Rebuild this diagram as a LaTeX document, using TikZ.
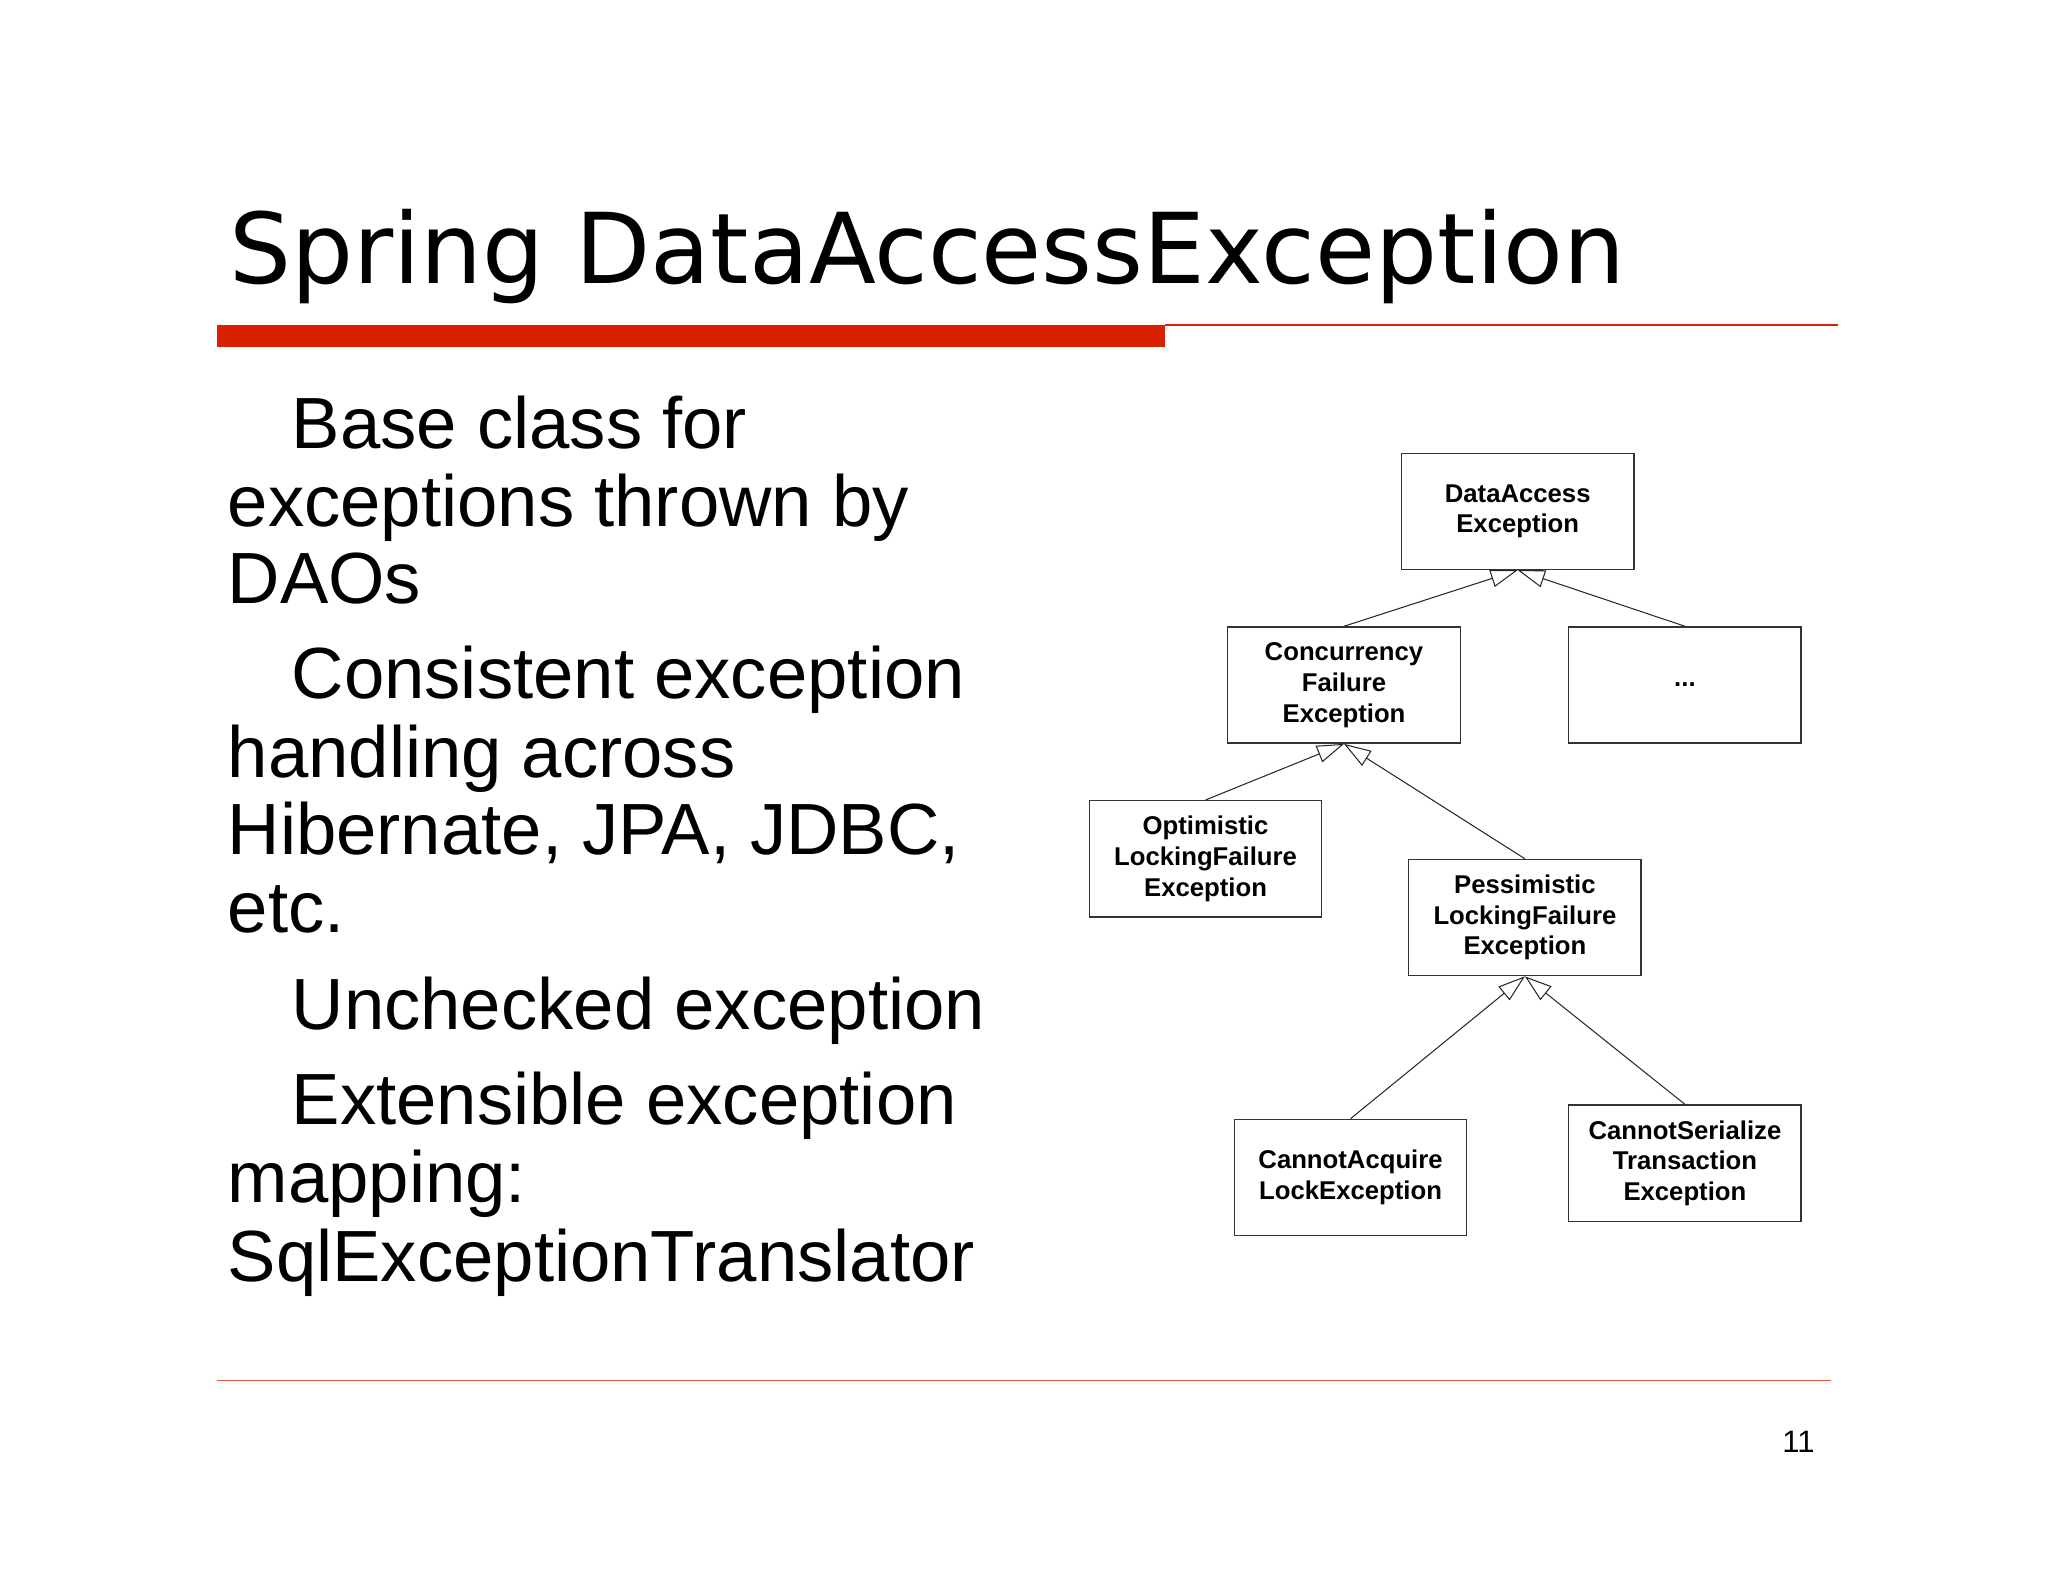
\documentclass[tikz,border=0pt]{standalone}
\usepackage{fontspec}
\setmainfont{Liberation Sans}
\newfontfamily\titlefont{DejaVu Sans}
\usetikzlibrary{arrows.meta}
\definecolor{slidered}{RGB}{217,32,0}
\begin{document}
\begin{tikzpicture}[x=0.02cm,y=-0.02cm,
  cls/.style={draw=black!80,line width=0.6pt,minimum width=3.56cm,minimum height=1.78cm,
    inner sep=0pt,align=center,font=\fontsize{11.2}{13.4}\selectfont\bfseries},
  inh/.style={draw=black!85,line width=0.45pt,-{Triangle[open,length=11.8pt,width=7.7pt]}},
  body/.style={anchor=base west,inner sep=0pt,font=\fontsize{31.6}{36}\selectfont},
]
\useasboundingbox[fill=white] (0,0) rectangle (1568,1211.2);

% title and rules
\node[anchor=base west,inner sep=0pt,font=\titlefont\fontsize{42.6}{50}\selectfont] (title) at (175,217) {Spring DataAccessException};
\fill[slidered] (166,248.5) rectangle (892,266);
\draw[slidered,line width=0.85pt] (892,249) -- (1407,249);
\draw[slidered!75,line width=0.45pt] (166,1056.6) -- (1402,1056.6);
\node[anchor=base,inner sep=0pt,font=\fontsize{13.5}{16}\selectfont] (pnum) at (1377,1112) {11};

% body text
\node[body] (l1) at (223,343) {Base class for};
\node[body] (l2) at (174,403) {exceptions thrown by};
\node[body] (l3) at (174,462) {DAOs};
\node[body] (l4) at (223,535) {Consistent exception};
\node[body] (l5) at (174,595) {handling across};
\node[body] (l6) at (174,654) {Hibernate, JPA, JDBC,};
\node[body] (l7) at (174,714) {etc.};
\node[body] (l8) at (223,788) {Unchecked exception};
\node[body] (l9) at (223,861) {Extensible exception};
\node[body] (l10) at (174,921) {mapping:};
\node[body] (l11) at (174,981) {SqlExceptionTranslator};

% class diagram
\node[cls] (dae) at (1162,391.5) {DataAccess\\Exception};
\node[cls] (cfe) at (1029,524.5) {Concurrency\\Failure\\Exception};
\node[cls] (etc) at (1290,524.5) {...};
\node[cls] (olfe) at (923,657.5) {Optimistic\\LockingFailure\\Exception};
\node[cls] (plfe) at (1167.5,702.5) {Pessimistic\\LockingFailure\\Exception};
\node[cls] (cale) at (1034,901.5) {CannotAcquire\\LockException};
\node[cls] (cste) at (1290,890.5) {CannotSerialize\\Transaction\\Exception};

\draw[inh] (cfe.north) -- (dae.south);
\draw[inh] (etc.north) -- (dae.south);
\draw[inh] (olfe.north) -- (cfe.south);
\draw[inh] (plfe.north) -- (cfe.south);
\draw[inh] (cale.north) -- (plfe.south);
\draw[inh] (cste.north) -- (plfe.south);
\end{tikzpicture}
\end{document}
